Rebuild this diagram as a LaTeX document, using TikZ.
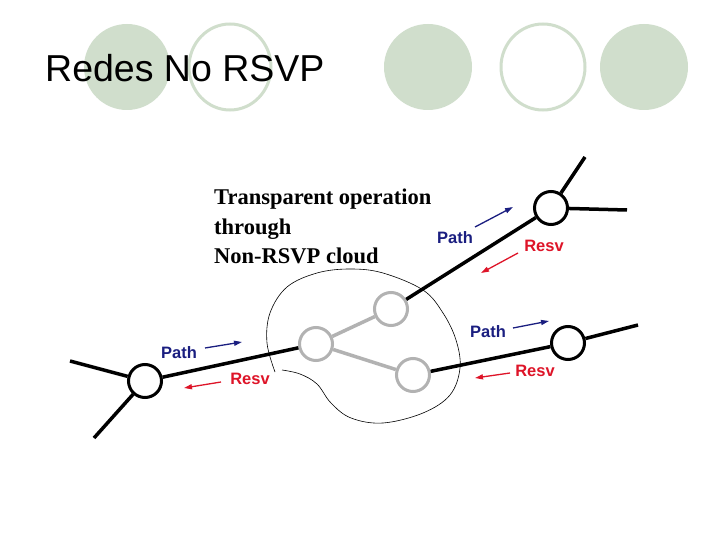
\documentclass[tikz,border=0pt]{standalone}
\usepackage{fontspec}
\setmainfont{Liberation Serif}
\setsansfont{Liberation Sans}
\usetikzlibrary{arrows.meta}
\definecolor{deco}{RGB}{208,222,204}
\definecolor{pathblue}{RGB}{26,30,128}
\definecolor{resvred}{RGB}{222,20,40}
\definecolor{cloudgray}{RGB}{178,178,178}
\tikzset{
  decofill/.style={fill=deco, draw=none},
  decoring/.style={draw=deco, line width=3, fill=white},
  router/.style={circle, draw=black, line width=3, minimum size=33, inner sep=0, fill=white},
  grayrouter/.style={circle, draw=cloudgray, line width=3, minimum size=33, inner sep=0, fill=white},
  link/.style={line width=3.5, black},
  graylink/.style={line width=3.5, cloudgray},
  pathlbl/.style={font=\sffamily\bfseries\fontsize{16.5}{18}\selectfont, text=pathblue, inner sep=0},
  resvlbl/.style={font=\sffamily\bfseries\fontsize{16.5}{18}\selectfont, text=resvred, inner sep=0},
  patharrow/.style={pathblue, line width=1.3, -{Triangle[length=8,width=5]}},
  resvarrow/.style={resvred, line width=1.3, -{Triangle[length=8,width=5]}},
  bodytext/.style={font=\bfseries\fontsize{22.5}{29}\selectfont, anchor=base west, inner sep=0},
}
\begin{document}
\begin{tikzpicture}[x=1pt, y=-1pt]
\useasboundingbox (0,0) rectangle (720,540);
\fill[white] (0,0) rectangle (720,540);
% decorative circles
\path[decofill] (127,67) ellipse [x radius=43, y radius=43];
\path[decoring] (230,67) ellipse [x radius=41, y radius=43];
\path[decofill] (428,67) ellipse [x radius=44, y radius=43];
\path[decoring] (543,67) ellipse [x radius=42, y radius=43];
\path[decofill] (644,67) ellipse [x radius=44, y radius=43];
% title
\node[font=\sffamily\fontsize{37.5}{40}\selectfont, anchor=base west, inner sep=0] (title) at (45,82) {Redes No RSVP};
% body text
\node[bodytext] (t1) at (214,205) {Transparent operation};
\node[bodytext] (t2) at (214,235) {through};
\node[bodytext] (t3) at (214,263) {Non-RSVP cloud};
% cloud
\draw[black, line width=0.6] plot[smooth, tension=0.6] coordinates {(282,370) (300,374) (317,384) (331,403) (351,418) (383,423) (423,413) (450,395) (460,368) (456,340) (443,313) (423,290) (383,273) (350,269) (317,273) (287,287) (270,313) (267,343) (275,372)};
% nodes
\node[router] (L) at (145,381) {};
\node[grayrouter] (A) at (316,344) {};
\node[grayrouter] (B) at (391,309) {};
\node[grayrouter] (C) at (413,375) {};
\node[router] (R1) at (551,208) {};
\node[router] (R2) at (568,343) {};
\coordinate (l1) at (70,361);
\coordinate (l2) at (94,438);
\coordinate (r1a) at (585,157);
\coordinate (r1b) at (627,210);
\coordinate (r2a) at (638,325);
% links
\draw[link] (l1) -- (L);
\draw[link] (l2) -- (L);
\draw[link] (L) -- (A);
\draw[graylink] (A) -- (B);
\draw[graylink] (A) -- (C);
\draw[link] (B) -- (R1);
\draw[link] (C) -- (R2);
\draw[link] (R1) -- (r1a);
\draw[link] (R1) -- (r1b);
\draw[link] (R2) -- (r2a);
% labels and arrows
\node[pathlbl] (p1) at (179,353) {Path};
\coordinate (p1s) at (205,348); \coordinate (p1e) at (242,342);
\draw[patharrow] (p1s) -- (p1e);
\node[resvlbl] (q1) at (250,379) {Resv};
\coordinate (q1s) at (221,382); \coordinate (q1e) at (184,388);
\draw[resvarrow] (q1s) -- (q1e);
\node[pathlbl] (p2) at (455,238) {Path};
\coordinate (p2s) at (475,227); \coordinate (p2e) at (513,207);
\draw[patharrow] (p2s) -- (p2e);
\node[resvlbl] (q2) at (544,246) {Resv};
\coordinate (q2s) at (518,253); \coordinate (q2e) at (481,273);
\draw[resvarrow] (q2s) -- (q2e);
\node[pathlbl] (p3) at (488,332) {Path};
\coordinate (p3s) at (513,328); \coordinate (p3e) at (549,321);
\draw[patharrow] (p3s) -- (p3e);
\node[resvlbl] (q3) at (535,371) {Resv};
\coordinate (q3s) at (510,373); \coordinate (q3e) at (475,378);
\draw[resvarrow] (q3s) -- (q3e);
\end{tikzpicture}
\end{document}
